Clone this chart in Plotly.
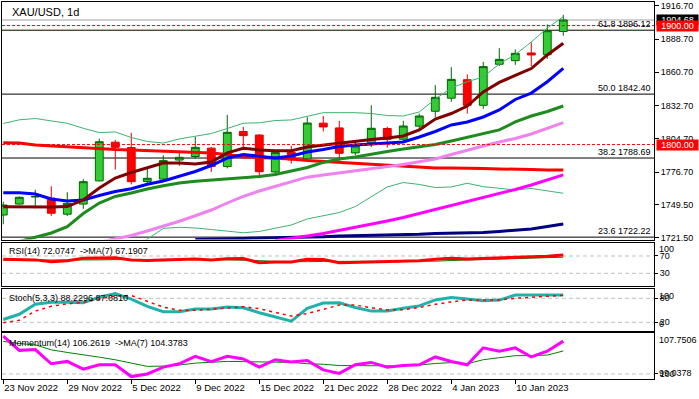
import plotly.graph_objects as go

# ---------------- data ----------------
dates = ["23 Nov 2022", "24 Nov 2022", "25 Nov 2022", "28 Nov 2022", "29 Nov 2022", "30 Nov 2022",
         "1 Dec 2022", "2 Dec 2022", "5 Dec 2022", "6 Dec 2022", "7 Dec 2022", "8 Dec 2022",
         "9 Dec 2022", "12 Dec 2022", "13 Dec 2022", "14 Dec 2022", "15 Dec 2022", "16 Dec 2022",
         "19 Dec 2022", "20 Dec 2022", "21 Dec 2022", "22 Dec 2022", "23 Dec 2022", "27 Dec 2022",
         "28 Dec 2022", "29 Dec 2022", "30 Dec 2022", "3 Jan 2023", "4 Jan 2023", "5 Jan 2023",
         "6 Jan 2023", "9 Jan 2023", "10 Jan 2023", "11 Jan 2023", "12 Jan 2023", "13 Jan 2023"]

open_ = [1740.8, 1750.0, 1756.0, 1755.0, 1741.5, 1750.0, 1769.5, 1802.0, 1797.5, 1769.0, 1771.0, 1787.0,
         1790.0, 1797.0, 1781.5, 1811.0, 1808.0, 1777.0, 1793.5, 1788.0, 1818.0, 1814.0, 1793.0, 1801.5,
         1813.5, 1804.5, 1815.5, 1828.0, 1839.0, 1854.5, 1833.0, 1867.5, 1870.5, 1877.0, 1875.5, 1895.0]
high = [1752.0, 1756.5, 1762.0, 1765.0, 1760.0, 1771.0, 1805.0, 1804.0, 1810.0, 1781.0, 1791.0, 1795.0,
        1806.5, 1798.0, 1825.0, 1815.0, 1809.0, 1795.0, 1799.0, 1823.0, 1824.0, 1820.0, 1803.0, 1833.0,
        1815.0, 1820.0, 1826.0, 1850.0, 1865.0, 1859.0, 1869.5, 1881.0, 1880.0, 1886.0, 1901.0, 1909.0]
low = [1733.0, 1749.5, 1746.5, 1740.0, 1740.0, 1746.0, 1769.0, 1779.0, 1766.5, 1766.0, 1769.0, 1782.0,
       1788.0, 1777.0, 1780.0, 1798.0, 1773.0, 1775.0, 1784.0, 1786.0, 1811.0, 1785.0, 1791.0, 1798.0,
       1797.5, 1803.0, 1813.0, 1823.0, 1836.0, 1826.0, 1830.0, 1866.0, 1867.0, 1866.0, 1872.0, 1891.5]
close = [1749.2, 1755.7, 1756.3, 1742.3, 1750.6, 1768.8, 1802.4, 1797.7, 1768.8, 1771.7, 1786.5, 1789.3,
         1797.7, 1781.5, 1810.3, 1807.5, 1777.2, 1793.5, 1787.1, 1818.1, 1814.8, 1792.7, 1798.8, 1813.7,
         1804.4, 1815.6, 1824.0, 1839.7, 1854.8, 1833.0, 1865.5, 1871.6, 1876.7, 1875.3, 1895.7, 1904.68]

ma_maroon = [1747.8, 1747.5, 1747.5, 1747.5, 1747.9, 1753.4, 1763.5, 1771.9, 1776.5, 1780.7, 1784.5, 1784.5,
             1783.7, 1785.4, 1793.0, 1796.9, 1795.5, 1794.9, 1794.9, 1798.0, 1799.7, 1801.3, 1803.0, 1804.3,
             1805.5, 1807.2, 1812.3, 1821.5, 1826.1, 1832.4, 1844.2, 1852.2, 1858.1, 1863.9, 1875.3, 1885.1]
ma_blue = [1759.6, 1759.6, 1758.5, 1754.3, 1752.6, 1753.4, 1757.2, 1760.6, 1762.9, 1766.6, 1769.4, 1773.6,
           1777.4, 1782.4, 1788.7, 1791.7, 1790.4, 1788.7, 1790.4, 1793.8, 1795.9, 1798.4, 1799.7, 1800.5,
           1800.9, 1802.2, 1806.4, 1811.0, 1816.5, 1819.0, 1823.2, 1829.1, 1837.9, 1843.3, 1852.8, 1864.1]
ma_green = [1715.0, 1718.5, 1722.3, 1725.7, 1731.0, 1742.1, 1750.9, 1756.4, 1759.3, 1762.7, 1765.4, 1767.7,
            1769.2, 1770.1, 1771.3, 1772.3, 1773.2, 1774.9, 1777.8, 1780.7, 1785.0, 1787.9, 1789.6, 1792.1,
            1794.2, 1796.3, 1798.0, 1800.1, 1803.0, 1806.1, 1808.9, 1812.3, 1819.0, 1824.0, 1827.8, 1832.4]
ma_violet = [None] * 6 + [1717.9, 1720.7, 1723.6, 1727.4, 1731.4, 1735.6, 1740.2, 1745.0, 1750.9, 1756.5,
                          1761.0, 1765.0, 1768.6, 1772.6, 1774.4, 1776.1, 1777.6, 1779.3, 1781.2, 1783.3,
                          1785.5, 1787.9, 1791.7, 1795.5, 1798.8, 1802.2, 1805.1, 1808.9, 1813.5, 1818.4]
ma_red = [1801.6, 1801.3, 1799.6, 1798.8, 1797.9, 1797.5, 1796.9, 1795.9, 1795.5, 1795.0, 1794.4, 1794.0,
          1793.8, 1793.0, 1791.7, 1789.6, 1789.2, 1788.7, 1787.9, 1786.6, 1785.8, 1785.0, 1784.3, 1783.7,
          1782.5, 1782.0, 1781.2, 1780.3, 1780.3, 1780.3, 1779.9, 1779.5, 1779.5, 1779.1, 1778.6, 1778.6]
ma_magenta = [None] * 17 + [1719.4, 1721.1, 1723.2, 1725.3, 1727.8, 1730.7, 1733.3, 1735.8, 1738.7, 1742.1,
                            1745.5, 1748.8, 1752.0, 1755.5, 1758.5, 1762.3, 1766.0, 1770.2, 1774.5]
ma_navy = [None] * 12 + [1720.2, 1720.7, 1720.8, 1721.1, 1721.5, 1721.7, 1721.9, 1722.3, 1722.6, 1723.2,
                         1723.4, 1723.6, 1724.0, 1724.4, 1724.6, 1725.3, 1725.5, 1725.7, 1726.1, 1727.0,
                         1727.8, 1729.1, 1731.2, 1733.3]
bb_upper = [1817.7, 1820.8, 1821.9, 1820.0, 1817.9, 1813.7, 1810.1, 1810.6, 1805.9, 1802.6, 1801.3, 1804.7,
            1806.8, 1809.3, 1813.5, 1817.9, 1818.3, 1820.2, 1820.7, 1824.0, 1826.8, 1826.8, 1826.8, 1826.1,
            1824.4, 1824.0, 1827.4, 1838.3, 1847.5, 1852.8, 1856.8, 1867.7, 1875.7, 1886.2, 1897.9, 1907.5]
bb_lower = [None] * 8 + [1711.4, 1720.7, 1729.6, 1730.5, 1729.9, 1728.6, 1727.4, 1725.9, 1727.0, 1729.9,
                         1732.4, 1737.5, 1740.0, 1742.9, 1747.9, 1756.4, 1764.4, 1768.1, 1766.5, 1763.9,
                         1764.4, 1767.5, 1764.6, 1763.3, 1761.8, 1763.1, 1761.0, 1759.1]

fib_pct = [61.8, 50.0, 38.2, 23.6]
fib_price = [1896.12, 1842.40, 1788.69, 1722.22]
alert_levels = [1900.00, 1800.00]
current_price = 1904.68
main_ticks = [1916.70, 1888.70, 1860.70, 1832.70, 1804.70, 1776.70, 1749.50, 1721.50]

rsi = [62.4, 62.4, 61.0, 56.8, 59.0, 64.7, 66.0, 66.0, 60.7, 59.5, 60.7, 61.5, 63.0, 60.7, 63.5, 64.0,
       54.5, 56.0, 56.0, 62.4, 62.0, 54.5, 55.5, 56.0, 56.0, 57.0, 59.0, 62.4, 64.7, 63.0, 64.7, 65.5,
       68.4, 68.4, 69.5, 72.0747]
rsi_ma = [60.5, 60.5, 60.5, 60.0, 59.5, 60.0, 61.0, 61.5, 62.0, 61.5, 61.5, 62.0, 62.5, 62.0, 61.5, 60.0,
          59.3, 57.5, 56.8, 56.8, 57.5, 57.5, 56.8, 56.8, 56.8, 57.2, 58.0, 58.0, 59.5, 60.7, 62.0, 63.0,
          65.0, 66.0, 66.3, 67.1907]
rsi_levels = [70, 30]

stoch_k = [27, 40, 65, 70, 70, 69, 83, 92, 78, 60, 46.5, 46.5, 53, 53.5, 58, 56.5, 44, 33, 23, 55, 68, 69,
           57, 48, 48, 55, 61, 76, 82, 78, 74, 75.5, 88, 88.5, 89, 88.2296]
stoch_d = [19, 25, 48, 60, 66, 70, 78, 86, 87, 73, 58, 50, 50, 52.5, 56, 59, 54, 45, 35.5, 42, 52, 63, 63,
           56, 51, 51.5, 57, 65, 71, 76, 76, 76, 80, 83, 86, 87.6810]
stoch_levels = [80, 20]

mom = [107.2, 104.5, 104.65, 101.94, 102.39, 100.91, 101.75, 101.75, 99.5, 100.0, 101.3, 101.94, 103.36,
       102.33, 103.36, 102.85, 101.3, 102.72, 102.27, 102.58, 100.78, 100.1, 101.75, 102.2, 101.3, 101.6,
       101.75, 103.24, 102.39, 101.75, 104.98, 104.33, 104.98, 103.24, 104.33, 106.2619]
mom_ma = [106.2, 105.8, 105.55, 104.6, 104.1, 103.7, 103.2, 102.7, 102.1, 101.45, 101.5, 101.7, 102.07,
          102.2, 102.39, 102.35, 102.27, 102.27, 102.2, 101.95, 101.85, 101.6, 101.55, 101.55, 101.55, 101.6,
          101.7, 102.0, 102.15, 101.94, 102.72, 103.1, 103.49, 103.49, 103.6, 104.3783]
mom_level = 100
mom_min, mom_max = 99.0378, 107.7506

# ---------------- layout helpers ----------------
W, H = 699, 399
FONT = "Liberation Sans, Arial, sans-serif"


def fy(p):
    return 1 - p / H


def fx(p):
    return p / W


x = list(range(len(dates)))
xdom = [fx(2), fx(654)]
xrange_ = [-0.08, 40.67]

fig = go.Figure()

fig.add_trace(go.Candlestick(
    x=x, open=open_, high=high, low=low, close=close,
    increasing=dict(line=dict(color="#006400", width=1), fillcolor="#32CD32"),
    decreasing=dict(line=dict(color="#e00000", width=1), fillcolor="#ff0000"),
    whiskerwidth=0, hoverinfo="skip", showlegend=False, xaxis="x", yaxis="y"))


def line(y, color, width, xa="x", ya="y", dash=None):
    fig.add_trace(go.Scatter(x=x, y=y, mode="lines", line=dict(color=color, width=width, dash=dash),
                             hoverinfo="skip", showlegend=False, xaxis=xa, yaxis=ya,
                             connectgaps=False))


line(bb_upper, "#3CB371", 1)
line(bb_lower, "#3CB371", 1)
line(ma_navy, "#000080", 3)
line(ma_magenta, "#FF00FF", 3)
line(ma_red, "#FF0000", 3)
line(ma_violet, "#EE82EE", 3)
line(ma_green, "#1E8B1E", 3)
line(ma_blue, "#0000FF", 3)
line(ma_maroon, "#800000", 3)

line(rsi_ma, "#008000", 1, "x2", "y2")
line(rsi, "#FF0000", 3, "x2", "y2")
line(stoch_k, "#20B2AA", 3, "x3", "y3")
line(stoch_d, "#FF0000", 1.5, "x3", "y3", dash="3px,4px")
line(mom_ma, "#008000", 1, "x4", "y4")
line(mom, "#FF00FF", 3, "x4", "y4")

shapes = []
for p in fib_price:
    shapes.append(dict(type="line", xref="x domain", x0=0, x1=1, yref="y", y0=p, y1=p,
                       line=dict(color="black", width=1), layer="below"))
shapes.append(dict(type="line", xref="x domain", x0=0, x1=1, yref="y", y0=current_price, y1=current_price,
                   line=dict(color="#C0C0C0", width=1.3), layer="below"))
for p in alert_levels:
    shapes.append(dict(type="line", xref="x domain", x0=0, x1=1, yref="y", y0=p, y1=p,
                       line=dict(color="#FF0000", width=1, dash="3px,2px"), layer="above"))
for lv in rsi_levels:
    shapes.append(dict(type="line", xref="x2 domain", x0=0, x1=1, yref="y2", y0=lv, y1=lv,
                       line=dict(color="#C0C0C0", width=1, dash="4px,3px"), layer="below"))
for lv in stoch_levels:
    shapes.append(dict(type="line", xref="x3 domain", x0=0, x1=1, yref="y3", y0=lv, y1=lv,
                       line=dict(color="#C0C0C0", width=1, dash="4px,3px"), layer="below"))
shapes.append(dict(type="line", xref="x4 domain", x0=0, x1=1, yref="y4", y0=mom_level, y1=mom_level,
                   line=dict(color="#C0C0C0", width=1, dash="4px,3px"), layer="below"))

ann = []
f9 = dict(family=FONT, size=9, color="black")
ann.append(dict(text="XAU/USD, 1d", xref="paper", yref="paper", x=fx(10), y=fy(12), xanchor="left",
                yanchor="middle", showarrow=False, font=dict(family=FONT, size=11, color="black")))
for pct, p in zip(fib_pct, fib_price):
    ann.append(dict(text=f"{pct:.1f} {p:.2f}", xref="paper", yref="y", x=fx(652), y=p, xanchor="right",
                    yanchor="bottom", showarrow=False, font=f9, borderpad=0))
ann.append(dict(text=f"{current_price:.2f}", xref="paper", yref="y", x=fx(656), y=current_price,
                xanchor="left", yanchor="middle", showarrow=False, bgcolor="black",
                font=dict(family=FONT, size=9, color="white"), width=41, height=10, borderpad=0))
for p in alert_levels:
    ann.append(dict(text=f"{p:.2f}", xref="paper", yref="y", x=fx(656), y=p,
                    xanchor="left", yanchor="middle", showarrow=False, bgcolor="#FF0000",
                    font=dict(family=FONT, size=9, color="white"), width=41, height=10, borderpad=0))
ann.append(dict(text=f"RSI(14) {rsi[-1]:.4f}  ->MA(7) {rsi_ma[-1]:.4f}", xref="paper", yref="paper",
                x=fx(7), y=fy(251), xanchor="left", yanchor="middle", showarrow=False, font=f9))
ann.append(dict(text=f"Stoch(5,3,3) {stoch_k[-1]:.4f} {stoch_d[-1]:.4f}", xref="paper", yref="paper",
                x=fx(7), y=fy(297.5), xanchor="left", yanchor="middle", showarrow=False, font=f9))
ann.append(dict(text=f"Momentum(14) {mom[-1]:.4f}  ->MA(7) {mom_ma[-1]:.4f}", xref="paper", yref="paper",
                x=fx(7), y=fy(343), xanchor="left", yanchor="middle", showarrow=False, font=f9))
for txt, ya, val, shift in [("100", "y2", 100, -6), ("0", "y2", 0, 7),
                            ("100", "y3", 100, -6), ("0", "y3", 0, 6),
                            (f"{mom_max:.4f}", "y4", mom_max, -7), (f"{mom_min:.4f}", "y4", mom_min, 6)]:
    ann.append(dict(text=txt, xref="paper", yref=ya, x=fx(657), y=val, yshift=shift, xanchor="left",
                    yanchor="middle", showarrow=False, font=f9))

axis_common = dict(showline=True, mirror=True, linecolor="black", linewidth=1, showgrid=False,
                   zeroline=False, automargin=False)
yax_common = dict(axis_common, side="right", ticks="outside", ticklen=4, tickcolor="black",
                  tickfont=f9)

layout = dict(
    width=W, height=H, autosize=False, margin=dict(l=0, r=0, t=0, b=0, pad=0),
    paper_bgcolor="white", plot_bgcolor="white", showlegend=False, hovermode=False,
    shapes=shapes, annotations=ann,
    xaxis=dict(axis_common, domain=xdom, range=xrange_, anchor="y", showticklabels=False,
               rangeslider=dict(visible=False)),
    yaxis=dict(yax_common, domain=[fy(239.5), fy(2)], range=[1720.23, 1919.81], anchor="x",
               tickvals=main_ticks, ticktext=[f"{v:.2f}" for v in main_ticks]),
    xaxis2=dict(axis_common, domain=xdom, range=xrange_, anchor="y2", showticklabels=False),
    yaxis2=dict(yax_common, domain=[fy(286), fy(242.5)], range=[0.6, 101.2], anchor="x2",
                tickvals=rsi_levels, ticktext=[str(v) for v in rsi_levels], ticklen=3),
    xaxis3=dict(axis_common, domain=xdom, range=xrange_, anchor="y3", showticklabels=False),
    yaxis3=dict(yax_common, domain=[fy(330.7), fy(288.5)], range=[-1, 104.5], anchor="x3",
                tickvals=stoch_levels, ticktext=[str(v) for v in stoch_levels], ticklen=3),
    xaxis4=dict(axis_common, domain=xdom, range=xrange_, anchor="y4",
                tickvals=x[::4], ticktext=dates[::4], ticks="outside", ticklen=4, tickcolor="black",
                tickfont=dict(family=FONT, size=9.5, color="black"), ticklabelposition="outside right"),
    yaxis4=dict(yax_common, domain=[fy(379), fy(333.3)], range=[mom_min, mom_max], anchor="x4",
                tickvals=[mom_level], ticktext=[str(mom_level)], ticklen=3),
)
fig.update_layout(**layout)
fig.write_html("out.html", config={"displayModeBar": False},
               post_script="document.body.style.margin='0';document.body.style.overflow='hidden';")
